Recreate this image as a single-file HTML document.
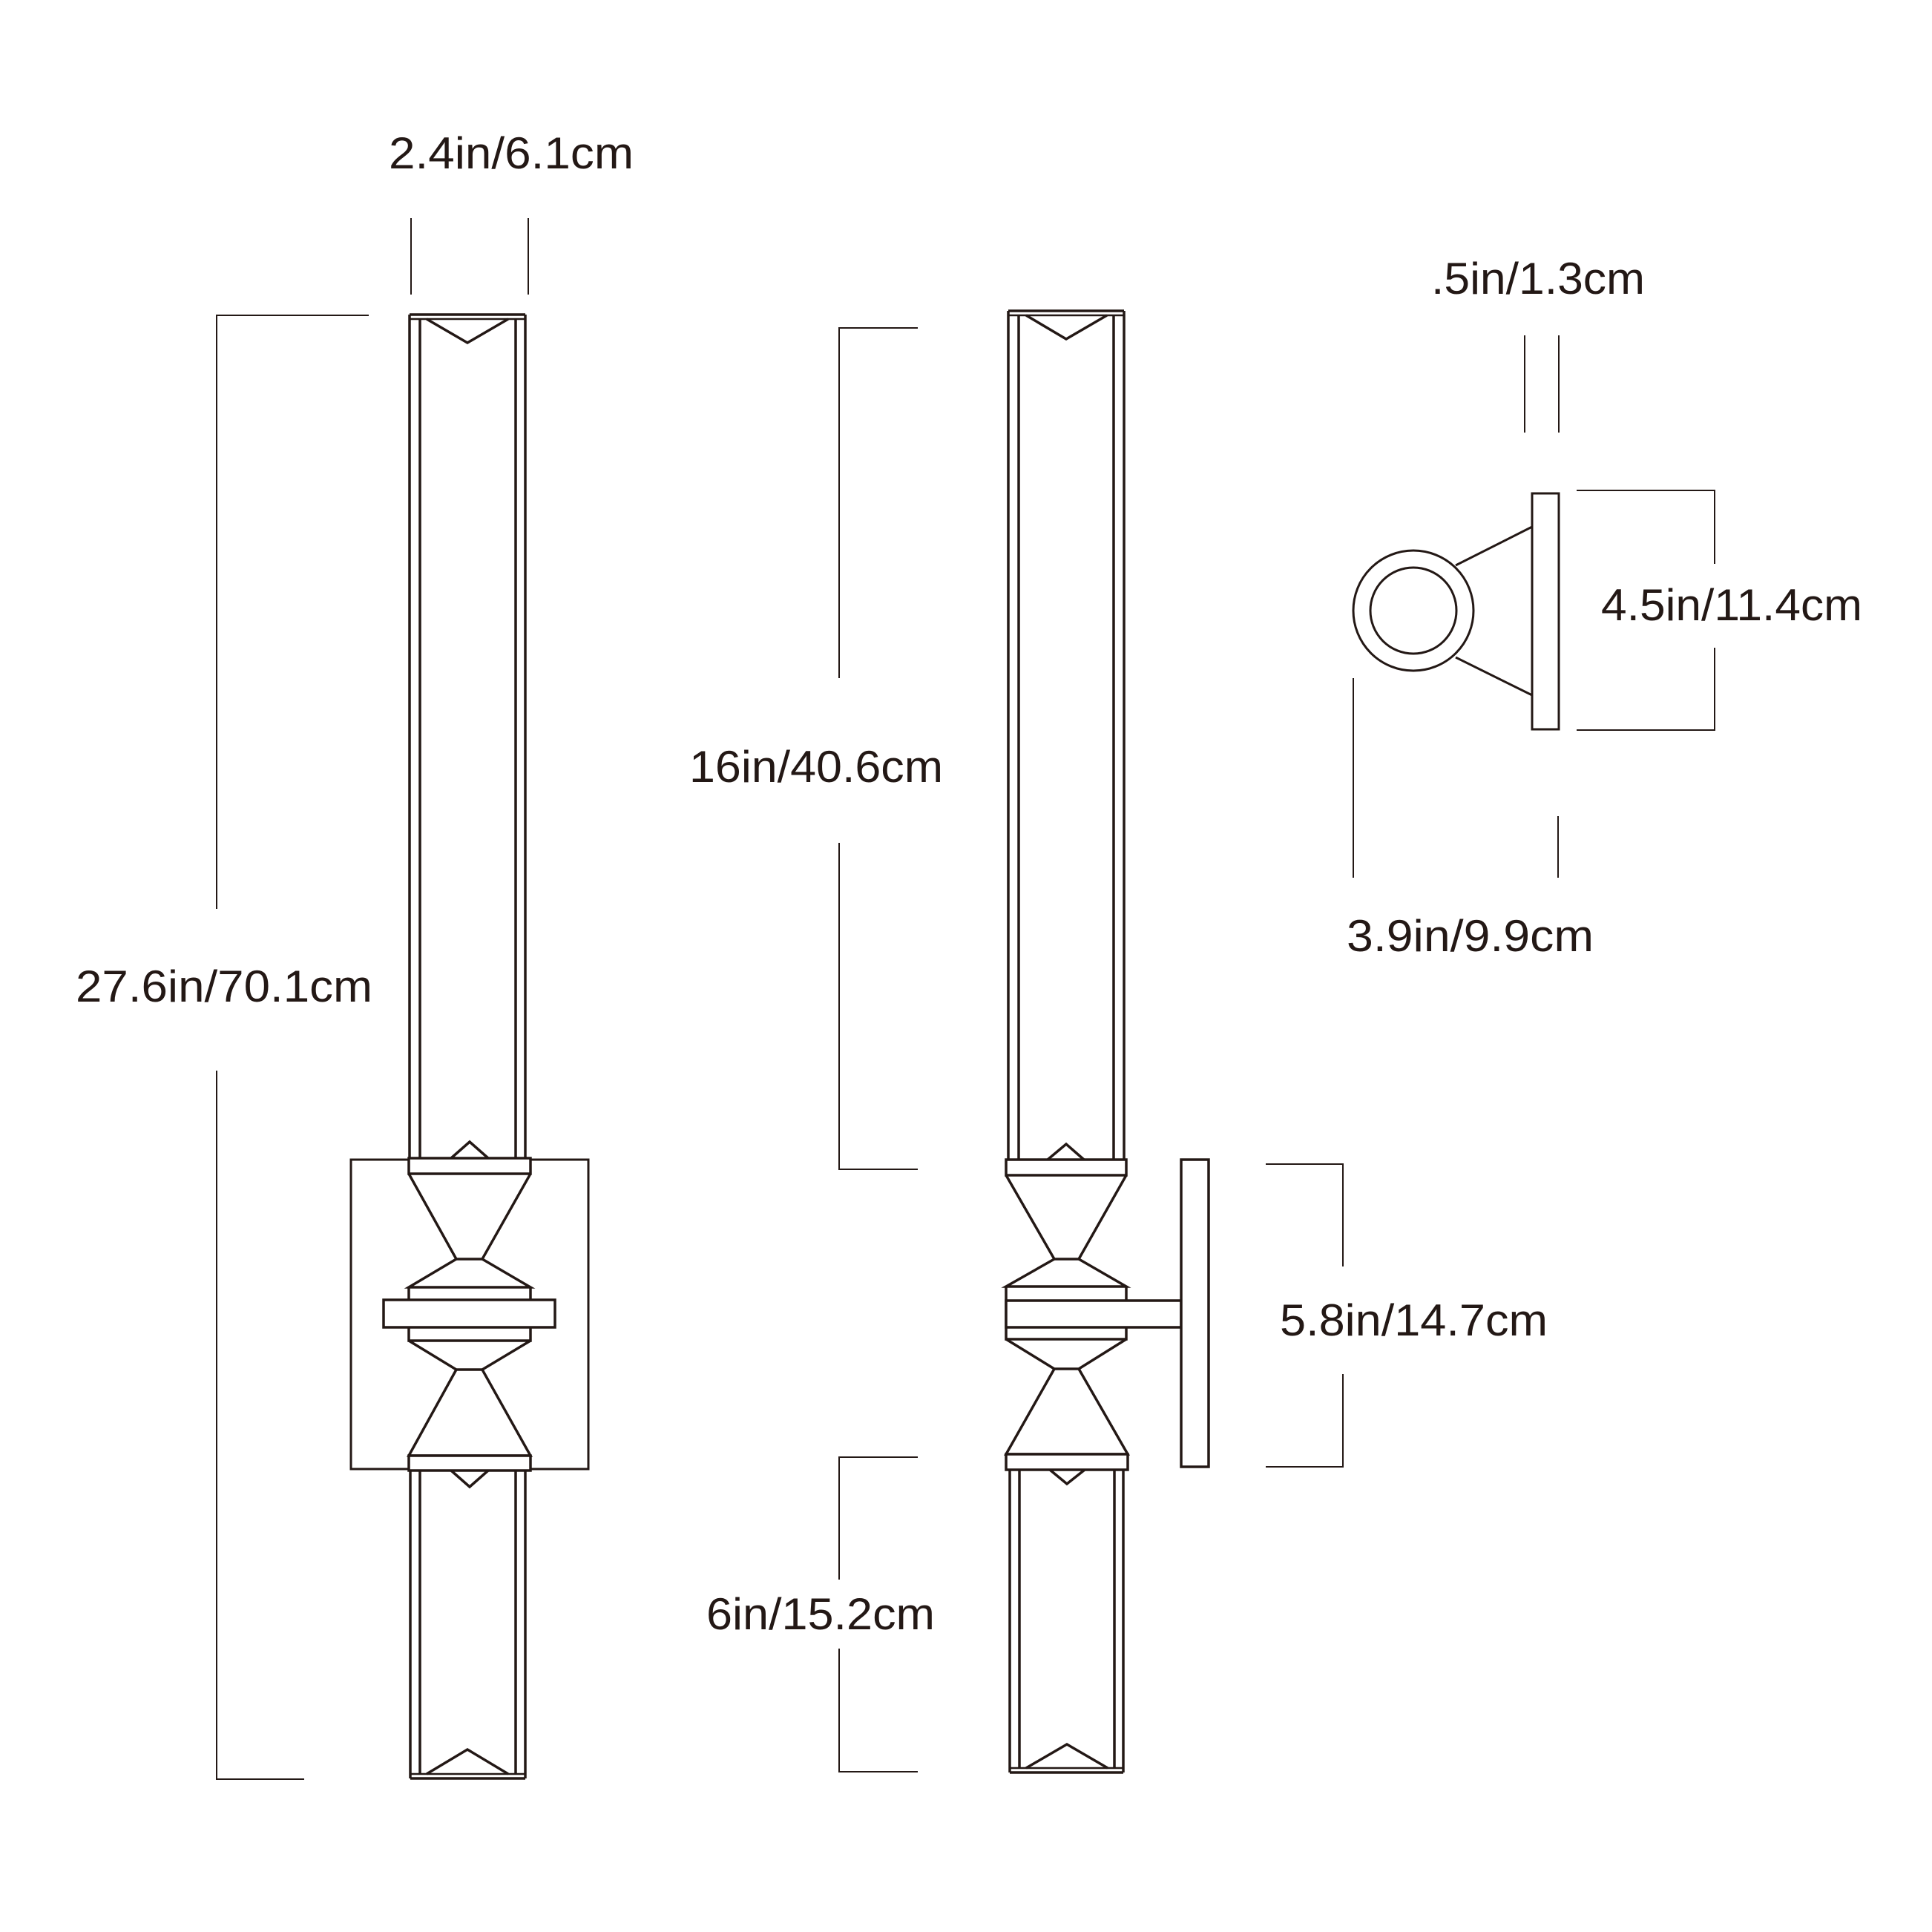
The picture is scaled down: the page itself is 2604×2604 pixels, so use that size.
<!DOCTYPE html>
<html><head><meta charset="utf-8"><style>
html,body{margin:0;padding:0;background:#fff;}
svg{display:block;}
text{font-family:"Liberation Sans",sans-serif;font-size:60px;fill:#231815;}
</style></head><body>
<svg width="2604" height="2604" viewBox="0 0 2604 2604" xmlns="http://www.w3.org/2000/svg">
<g fill="none" stroke="#231815" stroke-linejoin="miter">
<!-- dimension lines -->
<g stroke-width="2">
<line x1="554" y1="294" x2="554" y2="397"/><line x1="712" y1="294" x2="712" y2="397"/>
<polyline points="497,425 292,425 292,1225"/>
<polyline points="292,1443 292,2398 410,2398"/>
<polyline points="1237,442 1131,442 1131,914"/>
<polyline points="1131,1136 1131,1576 1237,1576"/>
<polyline points="1237,1964 1131,1964 1131,2129"/>
<polyline points="1131,2222 1131,2388 1237,2388"/>
<polyline points="1706,1569 1810,1569 1810,1707"/>
<polyline points="1810,1852 1810,1977 1706,1977"/>
<line x1="2055" y1="452" x2="2055" y2="583"/><line x1="2101" y1="452" x2="2101" y2="583"/>
<polyline points="2125,661 2311,661 2311,760"/>
<polyline points="2311,873 2311,984 2125,984"/>
<line x1="1824" y1="914" x2="1824" y2="1183"/><line x1="2100" y1="1100" x2="2100" y2="1183"/>
</g>
<g stroke-width="3.5">
<!-- LEFT FIXTURE -->
<rect x="473" y="1563" width="320" height="417" stroke-width="3"/>
<line x1="552" y1="424" x2="552" y2="1561"/><line x1="708" y1="424" x2="708" y2="1561"/>
<line x1="552" y1="424" x2="708" y2="424"/><line x1="552" y1="430" x2="708" y2="430" stroke-width="2.5"/>
<line x1="566" y1="430" x2="566" y2="1561"/><line x1="695" y1="430" x2="695" y2="1561"/>
<polyline points="575,430 630,462 685,430"/>
<polyline points="608,1561 633,1539 658,1561"/>
<rect x="551" y="1561" width="164" height="21" fill="#fff"/>
<polyline points="551,1582 615,1697 650,1697 715,1582"/>
<polyline points="615,1697 551,1735 715,1735 650,1697"/>
<polyline points="551,1735 551,1807 715,1807 715,1735"/>
<rect x="517" y="1752" width="231" height="37" fill="#fff"/>
<polyline points="551,1807 615,1846 650,1846 715,1807"/>
<polyline points="615,1846 551,1962 715,1962 650,1846"/>
<rect x="551" y="1962" width="164" height="20" fill="#fff"/>
<polyline points="608,1982 633,2004 658,1982"/>
<line x1="553" y1="1982" x2="553" y2="2397"/><line x1="708" y1="1982" x2="708" y2="2397"/>
<line x1="566" y1="1982" x2="566" y2="2391"/><line x1="695" y1="1982" x2="695" y2="2391"/>
<line x1="553" y1="2397" x2="708" y2="2397"/><line x1="553" y1="2391" x2="708" y2="2391" stroke-width="2.5"/>
<polyline points="575,2391 630,2358 685,2391"/>
<!-- MIDDLE FIXTURE -->
<line x1="1359" y1="419" x2="1359" y2="1563"/><line x1="1515" y1="419" x2="1515" y2="1563"/>
<line x1="1359" y1="419" x2="1515" y2="419"/><line x1="1359" y1="425" x2="1515" y2="425" stroke-width="2.5"/>
<line x1="1373" y1="425" x2="1373" y2="1563"/><line x1="1501" y1="425" x2="1501" y2="1563"/>
<polyline points="1383,425 1437,457 1492,425"/>
<polyline points="1412,1563 1437,1542 1461,1563"/>
<rect x="1356" y="1563" width="162" height="21" fill="#fff"/>
<polyline points="1356,1584 1421,1697 1454,1697 1518,1584"/>
<polyline points="1421,1697 1356,1734 1518,1734 1454,1697"/>
<polyline points="1356,1734 1356,1805 1518,1805 1518,1734"/>
<rect x="1356" y="1753" width="236" height="36" fill="#fff"/>
<polyline points="1356,1805 1421,1845 1454,1845 1518,1805"/>
<polyline points="1421,1845 1356,1960 1520,1960 1454,1845"/>
<rect x="1356" y="1960" width="164" height="21" fill="#fff"/>
<polyline points="1415,1981 1438,2000 1462,1981"/>
<rect x="1592" y="1563" width="37" height="414" fill="#fff"/>
<line x1="1361" y1="1981" x2="1361" y2="2389"/><line x1="1514" y1="1981" x2="1514" y2="2389"/>
<line x1="1374" y1="1981" x2="1374" y2="2383"/><line x1="1502" y1="1981" x2="1502" y2="2383"/>
<line x1="1361" y1="2389" x2="1514" y2="2389"/><line x1="1361" y1="2383" x2="1514" y2="2383" stroke-width="2.5"/>
<polyline points="1383,2383 1438,2351 1493,2383"/>
<!-- RIGHT VIEW -->
<line x1="1962" y1="762" x2="2065" y2="710" stroke-width="3"/>
<line x1="1962" y1="886" x2="2065" y2="937" stroke-width="3"/>
<circle cx="1905" cy="823" r="81" stroke-width="3"/>
<circle cx="1905" cy="823" r="58" stroke-width="3"/>
<rect x="2065" y="665" width="36" height="318" stroke-width="3"/>
</g>
</g>
<text x="524" y="227" textLength="330" lengthAdjust="spacingAndGlyphs">2.4in/6.1cm</text>
<text x="102" y="1350" textLength="400" lengthAdjust="spacingAndGlyphs">27.6in/70.1cm</text>
<text x="929" y="1054" textLength="342" lengthAdjust="spacingAndGlyphs">16in/40.6cm</text>
<text x="952" y="2196" textLength="308" lengthAdjust="spacingAndGlyphs">6in/15.2cm</text>
<text x="1725" y="1800" textLength="361" lengthAdjust="spacingAndGlyphs">5.8in/14.7cm</text>
<text x="1929" y="396" textLength="288" lengthAdjust="spacingAndGlyphs">.5in/1.3cm</text>
<text x="2158" y="836" textLength="352" lengthAdjust="spacingAndGlyphs">4.5in/11.4cm</text>
<text x="1815" y="1282" textLength="333" lengthAdjust="spacingAndGlyphs">3.9in/9.9cm</text>
</svg>
</body></html>
